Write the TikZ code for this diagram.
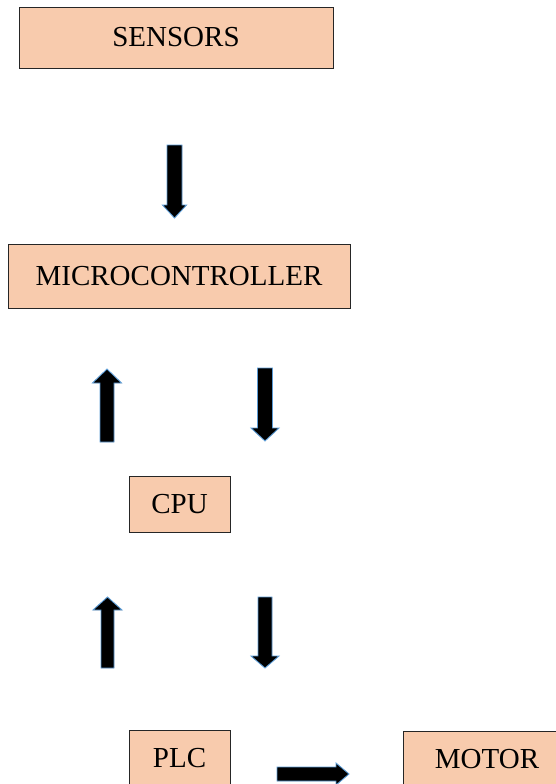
\documentclass[tikz,border=0pt]{standalone}
\usepackage{fontspec}
\setmainfont{Liberation Serif}
\definecolor{boxfill}{HTML}{F8CBAD}
\definecolor{arrowedge}{HTML}{5B9BD5}

% block arrow: tail point, rotation, length, shaft width, head width, head length
\newcommand{\blockarrow}[6]{%
  \begin{scope}[shift={#1}, rotate=#2]
    \path[barrow] (0,-#4/2) -- ({#3-#6},-#4/2) -- ({#3-#6},-#5/2) -- (#3,0)
      -- ({#3-#6},#5/2) -- ({#3-#6},#4/2) -- (0,#4/2) -- cycle;
  \end{scope}}

\begin{document}
\begin{tikzpicture}[x=1pt, y=1pt,
  box/.style={draw=black!85, line width=0.9pt, fill=boxfill, inner sep=0pt,
    font=\fontsize{29}{34}\selectfont},
  barrow/.style={fill=black, draw=arrowedge, line width=0.9pt, line join=miter}]
  \useasboundingbox (0,0) rectangle (556,-784);
  \clip (0,0) rectangle (556,-784);

  % blocks
  \node[box, minimum width=314, minimum height=61] (sensors) at (176,-37.5) {SENSORS};
  \node[box, minimum width=342, minimum height=64] (micro) at (179,-276) {MICROCONTROLLER};
  \node[box, minimum width=101, minimum height=56] (cpu) at (179.5,-504) {CPU};
  \node[box, minimum width=101, minimum height=56] (plc) at (179.5,-758) {PLC};
  \node[box, minimum width=168, minimum height=56] (motor) at (487,-759) {MOTOR};

  % block arrows between the stages
  \blockarrow{(174.5,-145)}{-90}{73}{15}{24}{13}
  \blockarrow{(107,-442)}{90}{73}{14}{29}{14}
  \blockarrow{(265,-368)}{-90}{73}{15}{28}{13}
  \blockarrow{(107.5,-668)}{90}{71}{13}{29}{13}
  \blockarrow{(265,-597)}{-90}{71}{14}{28}{12}
  \blockarrow{(277,-774)}{0}{72}{14}{22}{13}
\end{tikzpicture}
\end{document}
